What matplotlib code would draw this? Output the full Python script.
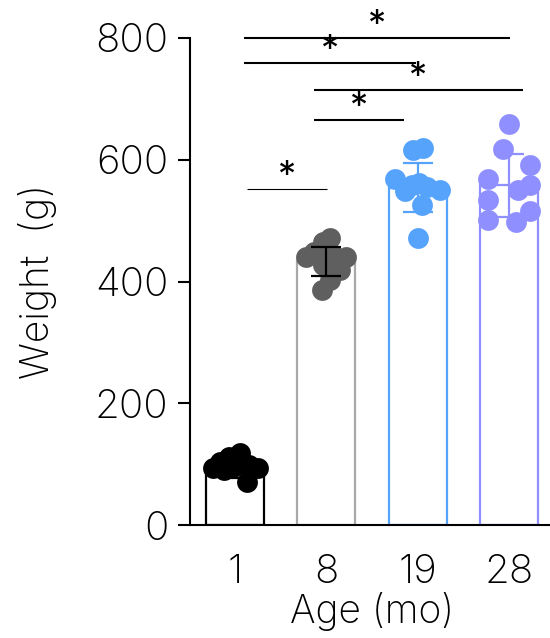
import matplotlib
matplotlib.use('Agg')
import matplotlib.pyplot as plt
import numpy as np

plt.rcParams['font.family'] = ['Inter', 'DejaVu Sans']
plt.rcParams['font.weight'] = 'light'
plt.rcParams['axes.labelweight'] = 'light'

ages = ['1', '8', '19', '28']
mean_weight = [92, 433, 554, 558]
sd_weight = [15, 24, 40, 52]

# individual animals (x jitter in bar units)
w_1mo = [93, 71, 93, 118, 112, 104, 96, 100, 90, 98]
w_8mo = [471, 465, 441, 449, 441, 444, 427, 402, 386, 419]
w_19mo = [616, 619, 569, 548, 561, 556, 550, 526, 472, 558]
w_28mo = [658, 617, 591, 569, 558, 550, 534, 515, 501, 498]
jit_1mo = [-0.24, 0.13, 0.25, 0.05, -0.07, -0.16, -0.02, 0.10, -0.12, 0.15]
jit_8mo = [0.04, -0.04, -0.22, -0.13, 0.22, 0.07, -0.04, 0.04, -0.05, 0.15]
jit_19mo = [-0.05, 0.06, -0.25, -0.14, 0.01, 0.10, 0.24, 0.05, 0.0, -0.06]
jit_28mo = [0.0, -0.07, 0.23, -0.23, 0.23, 0.10, -0.23, 0.23, -0.23, 0.08]

edge_colors = ['#000000', '#a8a8a8', '#56a3fc', '#8f8fff']
dot_colors = ['#000000', '#5f5f5f', '#56a3fc', '#8f8fff']
err_colors = ['#000000', '#000000', '#56a3fc', '#8f8fff']

# significance brackets: (x start, x end, y)
sig_x0 = [0.10, 0.10, 0.86, 0.86, 0.13]
sig_x1 = [3.01, 1.98, 3.15, 1.85, 1.01]
sig_y = [800, 759, 715, 665, 552]
sig_lw = [1.5, 1.5, 1.5, 1.5, 0.8]

fig = plt.figure(figsize=(5.5, 6.38), dpi=100)
ax = fig.add_axes([190 / 550, 113 / 638, 360 / 550, 487 / 638])

x = np.arange(len(ages))
ax.bar(x, mean_weight, width=0.635, color='white', edgecolor=edge_colors,
       linewidth=1.6, zorder=2)

points = [w_1mo, w_8mo, w_19mo, w_28mo]
jitters = [jit_1mo, jit_8mo, jit_19mo, jit_28mo]
for i in range(len(ages)):
    ez = 5 if i == 1 else 3
    ax.errorbar(x[i], mean_weight[i], yerr=sd_weight[i], color=err_colors[i],
                capsize=11, elinewidth=1.6, capthick=1.6, zorder=ez)
    ax.scatter(x[i] + np.array(jitters[i]), points[i], s=225,
               color=dot_colors[i], linewidths=0, zorder=4)

for x0, x1, y, lw in zip(sig_x0, sig_x1, sig_y, sig_lw):
    ax.plot([x0, x1], [y, y], color='black', lw=lw, clip_on=False,
            solid_capstyle='butt')
    ax.text((x0 + x1) / 2, y + 5, '*', ha='center', va='baseline',
            fontsize=26, fontweight='normal', clip_on=False)

ax.set_xlim(-0.493, 3.449)
ax.set_ylim(0, 800)
ax.set_yticks([0, 200, 400, 600, 800])
ax.set_xticks(x)
ax.set_xticklabels(ages)
ax.tick_params(axis='y', length=8.5, width=1.5, labelsize=29, pad=7)
ax.tick_params(axis='x', length=0, labelsize=29, pad=21)
for side in ['top', 'right']:
    ax.spines[side].set_visible(False)
ax.spines['left'].set_linewidth(1.5)
ax.spines['bottom'].set_linewidth(1.5)

ax.set_xlabel('Age (mo)', fontsize=28, fontweight='light')
ax.xaxis.set_label_coords(0.506, -0.138)
ax.set_ylabel('Weight  (g)', fontsize=28, fontweight='light')
ax.yaxis.set_label_coords(-0.37, 0.5)

fig.savefig('out.png', dpi=100)
